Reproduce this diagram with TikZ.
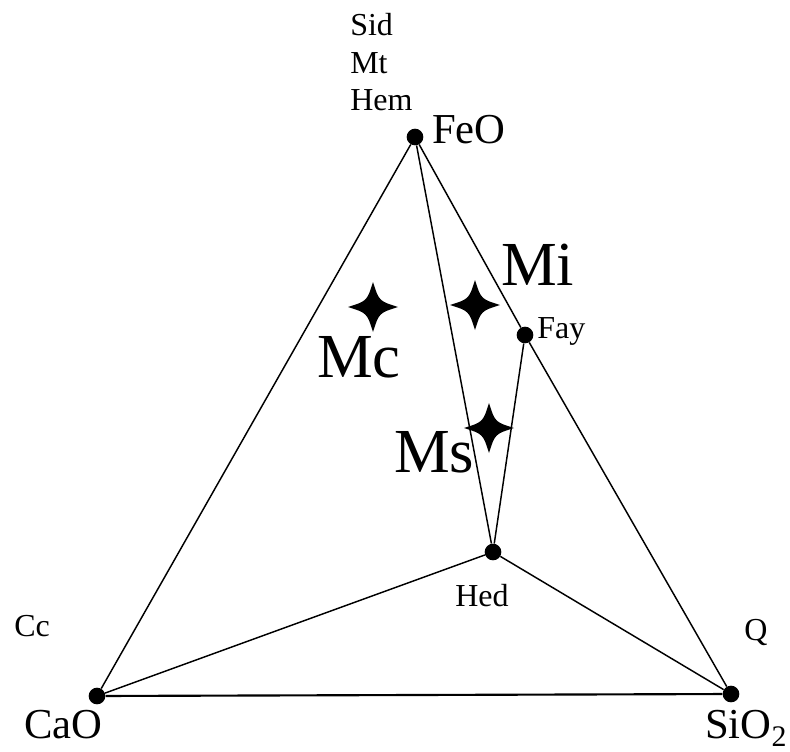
\documentclass[tikz,border=0pt]{standalone}
\usepackage{fontspec}
\setmainfont{Liberation Serif}
\usetikzlibrary{positioning}

\begin{document}
\begin{tikzpicture}[
    x=0.75pt, y=-0.75pt,
    every node/.style={inner sep=0pt},
    dot/.style={circle, fill=black, minimum size=12.5pt},
    tie/.style={line width=1.1pt},
    small/.style={font=\fontsize{24}{28}\selectfont, anchor=base west},
    oxide/.style={font=\fontsize{32}{38}\selectfont, anchor=base west},
    field/.style={font=\fontsize{47}{54}\selectfont, anchor=base west},
    sparkle/.pic={
        \fill (25,0) .. controls (6,6) .. (0,25) .. controls (-6,6) .. (-25,0)
            .. controls (-6,-6) .. (0,-25) .. controls (6,-6) .. cycle;
    }
]
\useasboundingbox (0,0) rectangle (790,751);

% end members and phases
\node[dot] (FeO) at (415,137) {};
\node[dot] (CaO) at (97,696) {};
\node[dot] (SiO2) at (731,694) {};
\node[dot] (Fay) at (525,335) {};
\node[dot] (Hed) at (493,552) {};

\draw[tie] (FeO) -- (CaO);
\draw[tie] (FeO) -- (Fay);
\draw[tie] (Fay) -- (SiO2);
\draw[line width=1.6pt] (CaO) -- (SiO2);
\draw[tie] (FeO) -- (Hed);
\draw[tie] (Fay) -- (Hed);
\draw[tie] (CaO) -- (Hed);
\draw[tie] (Hed) -- (SiO2);

% labels
\node[small] (Sid) at (350,35) {Sid};
\node[small] (Mt) at (350,73) {Mt};
\node[small] (Hem) at (350,110) {Hem};
\node[oxide] (FeOlbl) at (432,143) {FeO};
\node[small] (Faylbl) at (537,338) {Fay};
\node[small, anchor=base] (Hedlbl) at (482,606) {Hed};
\node[small] (Cc) at (14,636) {Cc};
\node[small] (Q) at (744,640) {Q};
\node[oxide] (CaOlbl) at (24,738) {CaO};
\node[oxide] (SiO2lbl) at (705,738) {SiO\textsubscript{2}};

% skarn fields
\pic (Mcstar) at (373,307) {sparkle};
\pic (Mistar) at (475,305) {sparkle};
\pic (Msstar) at (489,428) {sparkle};
\node[field] (Mc) at (317,377) {Mc};
\node[field] (Mi) at (501,285) {Mi};
\node[field] (Ms) at (394,472) {Ms};

\end{tikzpicture}
\end{document}
